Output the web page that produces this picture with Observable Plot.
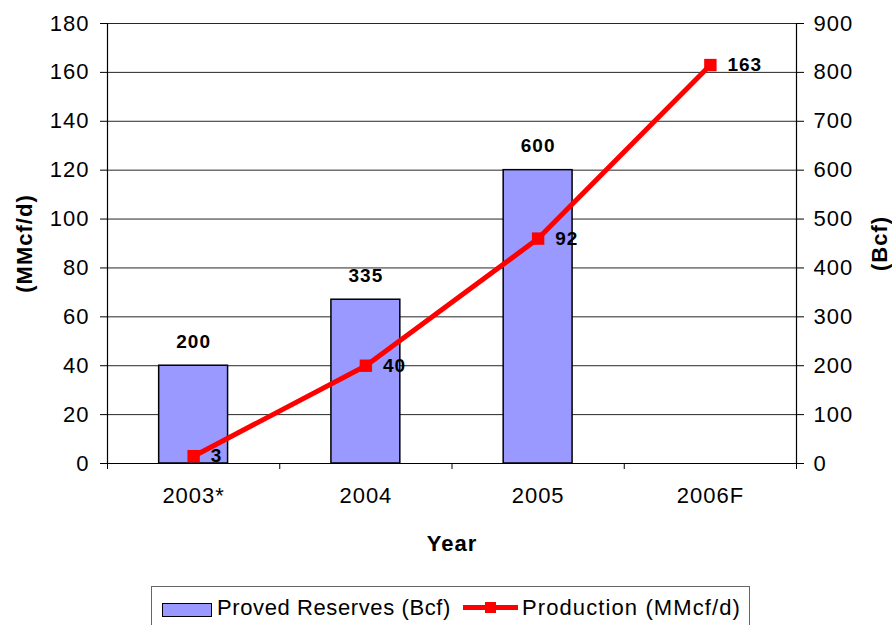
<!DOCTYPE html>
<html>
<head>
<meta charset="utf-8">
<script src="https://cdn.jsdelivr.net/npm/d3@7"></script>
<script src="https://cdn.jsdelivr.net/npm/@observablehq/plot@0.6"></script>
<style>
  html, body { margin: 0; padding: 0; background: #fff; overflow: hidden; }
  body { width: 892px; height: 625px; position: relative; font-family: "Liberation Sans", Arial, sans-serif; }
  #legend { position: absolute; left: 151px; top: 586px; width: 599px; height: 50px; border: 1px solid #666; box-sizing: border-box; }
  #legend .sw-bar { position: absolute; left: 10px; top: 16px; width: 48px; height: 12px; background: #9999ff; border: 1.5px solid #000; }
  #legend .sw-line { position: absolute; left: 311px; top: 18px; width: 55px; height: 5px; background: #ff0000; }
  #legend .sw-mark { position: absolute; left: 333px; top: 15px; width: 11px; height: 11px; background: #ff0000; }
  #legend .lbl { position: absolute; top: 8px; font-size: 22px; line-height: 26px; color: #000; white-space: nowrap; letter-spacing: 0.6px; }
</style>
</head>
<body>
<div id="chart"></div>
<div id="legend">
  <div class="sw-bar"></div><div class="lbl" id="l1" style="left:65px"></div>
  <div class="sw-line"></div><div class="sw-mark"></div><div class="lbl" id="l2" style="left:370px; letter-spacing:1.1px"></div>
</div>
<script>
const categories = ["2003*", "2004", "2005", "2006F"];
const reservesBcf = [200, 335, 600, null];
const productionMMcfd = [3, 40, 92, 163];
const leftTicks = [0, 20, 40, 60, 80, 100, 120, 140, 160, 180];
const seriesNames = ["Proved Reserves (Bcf)", "Production (MMcf/d)"];
const yLeftTitle = "(MMcf/d)";
const yRightTitle = "(Bcf)";
const xTitle = "Year";

const data = categories.map((c, i) => ({i, c, reserves: reservesBcf[i], production: productionMMcfd[i]}));
const bars = data.filter(d => d.reserves != null);
const boundaries = d3.range(categories.length + 1).map(k => k - 0.5);

const chart = Plot.plot({
  width: 892,
  height: 582,
  marginTop: 23,
  marginBottom: 119,
  marginLeft: 107,
  marginRight: 96,
  x: {type: "linear", domain: [-0.5, categories.length - 0.5], label: null},
  y: {domain: [0, 180], label: null},
  style: {fontFamily: "'Liberation Sans', Arial, sans-serif", fontSize: "22px", color: "#000", background: "#fff", letterSpacing: "1px"},
  marks: [
    Plot.gridY(leftTicks, {stroke: "#000", strokeOpacity: 0.85}),
    Plot.rectY(bars, {x1: d => d.i - 0.2, x2: d => d.i + 0.2, y1: 0, y2: d => d.reserves / 5, fill: "#9999ff", stroke: "#000", strokeWidth: 1.5}),
    Plot.ruleY([0], {stroke: "#000", strokeWidth: 1.2}),
    Plot.ruleX([-0.5, categories.length - 0.5], {stroke: "#000", strokeWidth: 1.2}),
    Plot.line(data, {x: "i", y: "production", stroke: "#ff0000", strokeWidth: 5}),
    Plot.dot(data, {x: "i", y: "production", symbol: "square", r: 7, fill: "#ff0000"}),
    Plot.text(bars, {x: "i", y: d => d.reserves / 5, text: d => String(d.reserves), dy: -24, fontWeight: "bold", fontSize: 19}),
    Plot.text(data, {x: "i", y: "production", text: d => String(d.production), dx: 17, textAnchor: "start", fontWeight: "bold", fontSize: 19}),
    Plot.axisY(leftTicks, {anchor: "left", tickSize: 7, tickPadding: 11, label: null}),
    Plot.axisY(leftTicks, {anchor: "right", tickSize: 7, tickPadding: 10, tickFormat: d => String(d * 5), label: null}),
    Plot.axisX(boundaries, {anchor: "bottom", tickSize: 6, tickFormat: () => "", label: null}),
    Plot.axisX(d3.range(categories.length), {anchor: "bottom", tickSize: 0, tickPadding: 24, tickFormat: i => categories[i], label: null}),
    Plot.text([yLeftTitle], {frameAnchor: "left", text: d => d, dx: -83, rotate: -90, textAnchor: "middle", lineAnchor: "middle", fontWeight: "bold", fontSize: 22}),
    Plot.text([yRightTitle], {frameAnchor: "right", text: d => d, dx: 83, rotate: -90, textAnchor: "middle", lineAnchor: "middle", fontWeight: "bold", fontSize: 22}),
    Plot.text([xTitle], {frameAnchor: "bottom", text: d => d, dy: 80, textAnchor: "middle", lineAnchor: "middle", fontWeight: "bold", fontSize: 22})
  ]
});
document.getElementById("chart").appendChild(chart);
document.getElementById("l1").textContent = seriesNames[0];
document.getElementById("l2").textContent = seriesNames[1];
</script>
</body>
</html>
